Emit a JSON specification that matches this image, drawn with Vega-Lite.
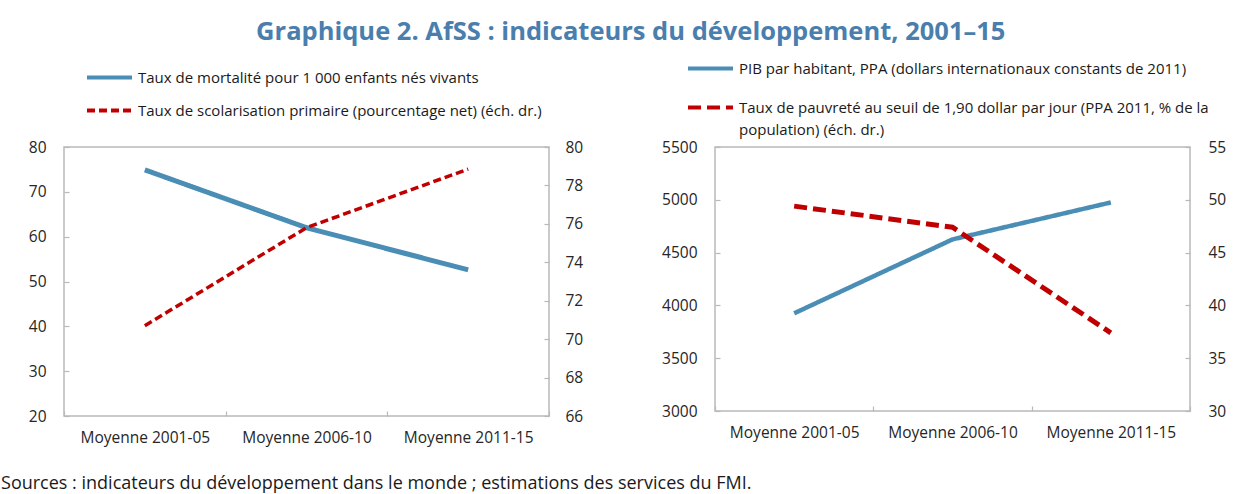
{
  "$schema": "https://vega.github.io/schema/vega-lite/v6.json",
  "background": "white",
  "padding": {"left": 1, "top": 20, "right": 5, "bottom": 5},
  "datasets": {
    "rows": [
      {"panel": "gauche", "axe": "gauche", "series": "Taux de mortalité pour 1 000 enfants nés vivants", "period": "Moyenne 2001-05", "value": 74.9},
      {"panel": "gauche", "axe": "gauche", "series": "Taux de mortalité pour 1 000 enfants nés vivants", "period": "Moyenne 2006-10", "value": 62.0},
      {"panel": "gauche", "axe": "gauche", "series": "Taux de mortalité pour 1 000 enfants nés vivants", "period": "Moyenne 2011-15", "value": 52.6},
      {"panel": "gauche", "axe": "droite", "series": "Taux de scolarisation primaire (pourcentage net) (éch. dr.)", "period": "Moyenne 2001-05", "value": 70.7},
      {"panel": "gauche", "axe": "droite", "series": "Taux de scolarisation primaire (pourcentage net) (éch. dr.)", "period": "Moyenne 2006-10", "value": 75.8},
      {"panel": "gauche", "axe": "droite", "series": "Taux de scolarisation primaire (pourcentage net) (éch. dr.)", "period": "Moyenne 2011-15", "value": 78.85},
      {"panel": "droite", "axe": "gauche", "series": "PIB par habitant, PPA (dollars internationaux constants de 2011)", "period": "Moyenne 2001-05", "value": 3925},
      {"panel": "droite", "axe": "gauche", "series": "PIB par habitant, PPA (dollars internationaux constants de 2011)", "period": "Moyenne 2006-10", "value": 4625},
      {"panel": "droite", "axe": "gauche", "series": "PIB par habitant, PPA (dollars internationaux constants de 2011)", "period": "Moyenne 2011-15", "value": 4975},
      {"panel": "droite", "axe": "droite", "series": "Taux de pauvreté au seuil de 1,90 dollar par jour (PPA 2011, % de la population) (éch. dr.)", "period": "Moyenne 2001-05", "value": 49.4},
      {"panel": "droite", "axe": "droite", "series": "Taux de pauvreté au seuil de 1,90 dollar par jour (PPA 2011, % de la population) (éch. dr.)", "period": "Moyenne 2006-10", "value": 47.4},
      {"panel": "droite", "axe": "droite", "series": "Taux de pauvreté au seuil de 1,90 dollar par jour (PPA 2011, % de la population) (éch. dr.)", "period": "Moyenne 2011-15", "value": 37.4}
    ]
  },
  "title": {
    "text": "Graphique 2. AfSS : indicateurs du développement, 2001–15",
    "font": "Open Sans", "fontSize": 25.5, "fontWeight": "bold", "color": "#4a7ead",
    "anchor": "middle", "offset": -2.5, "dx": 17
  },
  "vconcat": [
    {
      "title": {
        "text": "Sources : indicateurs du développement dans le monde ; estimations des services du FMI.",
        "orient": "bottom", "anchor": "start", "font": "Open Sans", "fontSize": 18, "fontWeight": "normal",
        "color": "#1a1a1a", "dx": -26.5, "offset": 29
      },
      "bounds": "flush",
      "spacing": 166,
      "resolve": {
        "scale": {"color": "independent", "strokeDash": "independent"},
        "legend": {"color": "independent", "strokeDash": "independent"}
      },
      "hconcat": [
        {
          "width": 485, "height": 269,
          "data": {"name": "rows"},
          "transform": [{"filter": "datum.panel == 'gauche'"}],
          "encoding": {
            "x": {"field": "period", "type": "ordinal", "scale": {"paddingInner": 0, "paddingOuter": 0},
                  "axis": {"title": null, "labelAngle": 0, "tickBand": "extent", "labelPadding": 19}}
          },
          "layer": [
            {
              "transform": [{"filter": "datum.axe == 'gauche'"}],
              "mark": {"type": "line", "strokeWidth": 5, "strokeCap": "butt"},
              "encoding": {
                "y": {"field": "value", "type": "quantitative", "scale": {"domain": [20, 80], "nice": false, "zero": false},
                      "axis": {"orient": "left", "values": [20, 30, 40, 50, 60, 70, 80], "title": null}},
                "color": {"field": "series", "type": "nominal",
                          "scale": {"domain": ["Taux de mortalité pour 1 000 enfants nés vivants", "Taux de scolarisation primaire (pourcentage net) (éch. dr.)"], "range": ["#4a8db5", "#c00000"]},
                          "legend": {"orient": "none", "legendX": 21, "legendY": -94, "title": null, "direction": "vertical", "rowPadding": -3}},
                "strokeDash": {"field": "series", "type": "nominal",
                          "scale": {"domain": ["Taux de mortalité pour 1 000 enfants nés vivants", "Taux de scolarisation primaire (pourcentage net) (éch. dr.)"], "range": [[1, 0], [8, 4]]},
                          "legend": {"orient": "none", "legendX": 21, "legendY": -94, "title": null, "direction": "vertical", "rowPadding": -3}}
              }
            },
            {
              "transform": [{"filter": "datum.axe == 'droite'"}],
              "mark": {"type": "line", "strokeWidth": 3.5, "strokeCap": "butt"},
              "encoding": {
                "y": {"field": "value", "type": "quantitative", "scale": {"domain": [66, 80], "nice": false, "zero": false},
                      "axis": {"orient": "right", "values": [66, 68, 70, 72, 74, 76, 78, 80], "title": null, "labelPadding": 21}},
                "color": {"field": "series", "type": "nominal",
                          "scale": {"domain": ["Taux de mortalité pour 1 000 enfants nés vivants", "Taux de scolarisation primaire (pourcentage net) (éch. dr.)"], "range": ["#4a8db5", "#c00000"]}},
                "strokeDash": {"field": "series", "type": "nominal",
                          "scale": {"domain": ["Taux de mortalité pour 1 000 enfants nés vivants", "Taux de scolarisation primaire (pourcentage net) (éch. dr.)"], "range": [[1, 0], [8, 4]]}}
              }
            }
          ],
          "resolve": {"scale": {"y": "independent"}}
        },
        {
          "width": 475, "height": 264,
          "data": {"name": "rows"},
          "transform": [{"filter": "datum.panel == 'droite'"}],
          "encoding": {
            "x": {"field": "period", "type": "ordinal", "scale": {"paddingInner": 0, "paddingOuter": 0},
                  "axis": {"title": null, "labelAngle": 0, "tickBand": "extent", "labelPadding": 19}}
          },
          "layer": [
            {
              "transform": [{"filter": "datum.axe == 'gauche'"}],
              "mark": {"type": "line", "strokeWidth": 4.5, "strokeCap": "butt"},
              "encoding": {
                "y": {"field": "value", "type": "quantitative", "scale": {"domain": [3000, 5500], "nice": false, "zero": false},
                      "axis": {"orient": "left", "values": [3000, 3500, 4000, 4500, 5000, 5500], "format": "d", "title": null}},
                "color": {"field": "series", "type": "nominal",
                          "scale": {"domain": ["PIB par habitant, PPA (dollars internationaux constants de 2011)", "Taux de pauvreté au seuil de 1,90 dollar par jour (PPA 2011, % de la population) (éch. dr.)"], "range": ["#4a8db5", "#c00000"]},
                          "legend": {"orient": "none", "legendX": -29, "legendY": -103, "title": null, "direction": "vertical", "rowPadding": 6,
                                     "labelExpr": "length(datum.label) > 70 ? [substring(datum.label, 0, lastindexof(substring(datum.label, 0, 70), ' ')), substring(datum.label, lastindexof(substring(datum.label, 0, 70), ' ') + 1)] : datum.label"}},
                "strokeDash": {"field": "series", "type": "nominal",
                          "scale": {"domain": ["PIB par habitant, PPA (dollars internationaux constants de 2011)", "Taux de pauvreté au seuil de 1,90 dollar par jour (PPA 2011, % de la population) (éch. dr.)"], "range": [[1, 0], [13, 6]]},
                          "legend": {"orient": "none", "legendX": -29, "legendY": -103, "title": null, "direction": "vertical", "rowPadding": 6,
                                     "labelExpr": "length(datum.label) > 70 ? [substring(datum.label, 0, lastindexof(substring(datum.label, 0, 70), ' ')), substring(datum.label, lastindexof(substring(datum.label, 0, 70), ' ') + 1)] : datum.label"}}
              }
            },
            {
              "transform": [{"filter": "datum.axe == 'droite'"}],
              "mark": {"type": "line", "strokeWidth": 5, "strokeCap": "butt"},
              "encoding": {
                "y": {"field": "value", "type": "quantitative", "scale": {"domain": [30, 55], "nice": false, "zero": false},
                      "axis": {"orient": "right", "values": [30, 35, 40, 45, 50, 55], "title": null}},
                "color": {"field": "series", "type": "nominal",
                          "scale": {"domain": ["PIB par habitant, PPA (dollars internationaux constants de 2011)", "Taux de pauvreté au seuil de 1,90 dollar par jour (PPA 2011, % de la population) (éch. dr.)"], "range": ["#4a8db5", "#c00000"]}},
                "strokeDash": {"field": "series", "type": "nominal",
                          "scale": {"domain": ["PIB par habitant, PPA (dollars internationaux constants de 2011)", "Taux de pauvreté au seuil de 1,90 dollar par jour (PPA 2011, % de la population) (éch. dr.)"], "range": [[1, 0], [13, 6]]}}
              }
            }
          ],
          "resolve": {"scale": {"y": "independent"}}
        }
      ]
    }
  ],
  "config": {
    "font": "Open Sans",
    "view": {"stroke": "#b9b9b9", "strokeWidth": 1.5},
    "style": {"guide-label": {"lineHeight": 22}},
    "axis": {
      "labelFont": "Open Sans", "labelFontSize": 15.5, "labelColor": "#262626",
      "domain": false, "grid": false, "tickColor": "#b9b9b9", "tickSize": -5, "tickWidth": 1.2,
      "labelPadding": 23
    },
    "legend": {
      "symbolType": "stroke", "symbolSize": 2025, "symbolStrokeWidth": 4,
      "labelFont": "Open Sans", "labelFontSize": 15, "labelColor": "#1a1a1a", "labelOffset": 4, "labelLimit": 700
    }
  }
}
